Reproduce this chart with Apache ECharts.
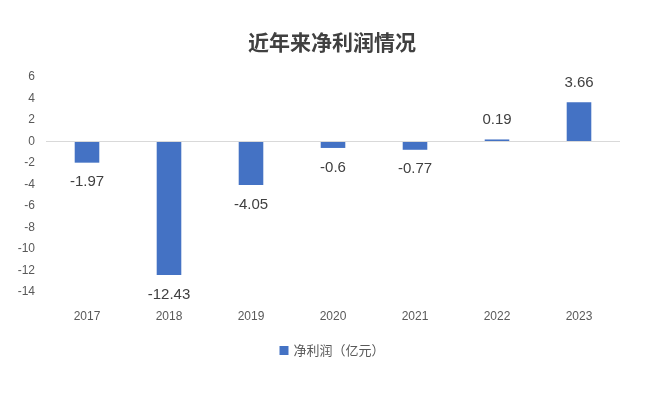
<!DOCTYPE html>
<html><head><meta charset="utf-8">
<script src="https://cdn.jsdelivr.net/npm/echarts@6/dist/echarts.min.js"></script>
<style>html,body{margin:0;padding:0;background:#fff}#c{width:664px;height:394px}</style>
</head><body><div id="c"></div>
<script>
var years = ['2017','2018','2019','2020','2021','2022','2023'];
var netProfit = [-1.97, -12.43, -4.05, -0.6, -0.77, 0.19, 3.66];
var seriesName = '净利润（亿元）';
var titleText = '近年来净利润情况';

var chart = echarts.init(document.getElementById('c'));
chart.setOption({
  animation: false,
  backgroundColor: '#fff',
  title: {text: titleText, left: 'center', top: 27,
    textStyle: {fontFamily: 'Noto Sans CJK SC', fontWeight: 'bold', fontSize: 21, color: '#404040'}},
  grid: {left: 46, right: 44, top: 77, bottom: 102},
  legend: {bottom: 32, left: 'center', itemWidth: 9, itemHeight: 9, icon: 'rect',
    textStyle: {fontFamily: 'Noto Sans CJK SC', fontSize: 13, color: '#595959'}, data: [seriesName]},
  xAxis: {type: 'category', data: years,
    axisLine: {show: false, onZero: false}, axisTick: {show: false},
    axisLabel: {margin: 19, color: '#595959', fontSize: 12, fontFamily: 'Liberation Sans'}},
  yAxis: {type: 'value', min: -14, max: 6, interval: 2,
    axisLine: {show: false}, axisTick: {show: false}, splitLine: {show: false},
    axisLabel: {margin: 11, color: '#595959', fontSize: 12, fontFamily: 'Liberation Sans'}},
  series: [{
    name: seriesName, type: 'bar', data: netProfit, barWidth: '30%',
    itemStyle: {color: '#4472C4'},
    label: {show: true, position: 'outside', distance: 12, color: '#404040', fontSize: 15, fontFamily: 'Liberation Sans',
      formatter: function(p){return String(p.value);}},
    markLine: {silent: true, symbol: 'none', label: {show: false},
      lineStyle: {color: '#d9d9d9', type: 'solid', width: 1}, data: [{yAxis: 0}]}
  }]
});
</script></body></html>
